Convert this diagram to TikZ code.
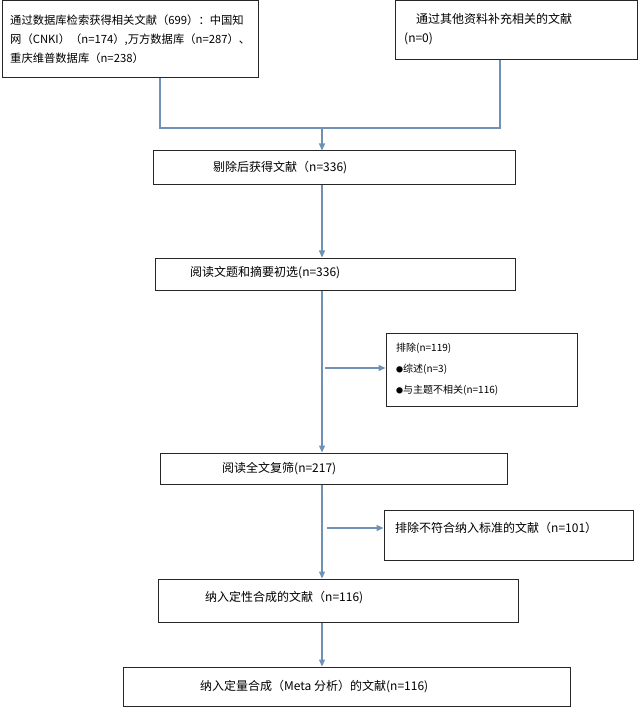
\documentclass[tikz,border=0pt]{standalone}
\usepackage{fontspec}
\setmainfont{Noto Sans CJK SC}
\usetikzlibrary{arrows.meta}
\definecolor{arr}{RGB}{110,145,180}
\begin{document}
\begin{tikzpicture}[x=1pt,y=-1pt,
  box/.style={draw=black!85,line width=1pt},
  txt/.style={anchor=west,inner sep=0pt,font=\fontsize{12}{19}\selectfont,align=left},
  con/.style={draw=arr,line width=1.3pt},
  arw/.style={con,-{Triangle[length=7pt,width=6pt]}}]
\useasboundingbox (0,0) rectangle (640,708);
\fill[white] (0,0) rectangle (640,708);
\newcommand\bx[5]{\node[box,minimum width={#4-#2},minimum height={#5-#3},inner sep=0pt] (#1) at ({(#2+#4)/2},{(#3+#5)/2}) {};}
\newcommand\bul{{\fontsize{7}{7}\selectfont●}}
\bx{b1}{2}{1}{258}{78}
\bx{b2}{395}{1}{637}{60}
\bx{b3}{153}{151}{515}{185}
\bx{b4}{155}{258}{515}{290}
\bx{b5}{386}{333}{577}{406}
\bx{b6}{160}{453}{507}{484}
\bx{b7}{384}{510}{633}{560}
\bx{b8}{158}{579}{518}{622}
\bx{b9}{123}{667}{570}{706}
\node[txt,font=\fontsize{11.3}{19}\selectfont] (t1) at (10,39) {通过数据库检索获得相关文献（699）：中国知\\网（CNKI）（n=174）,万方数据库（n=287）、\\重庆维普数据库（n=238）};
\node[txt] (t2) at (404,29) {\hspace{12pt}通过其他资料补充相关的文献\\(n=0)};
\node[txt] (t3) at (213,168) {剔除后获得文献（n=336)};
\node[txt] (t4) at (190,273) {阅读文题和摘要初选(n=336)};
\node[txt,font=\fontsize{10}{21}\selectfont] (t5) at (396,369) {排除(n=119)\\\bul{}综述(n=3)\\\bul{}与主题不相关(n=116)};
\node[txt] (t6) at (222,469) {阅读全文复筛(n=217)};
\node[txt] (t7) at (395,528) {排除不符合纳入标准的文献（n=101）};
\node[txt] (t8) at (205,598) {纳入定性合成的文献（n=116)};
\node[txt] (t9) at (200,687) {纳入定量合成（Meta 分析）的文献(n=116)};
\coordinate (m) at (322,128);
\draw[con] (b1.south -| 160,0) |- (m) -| (b2.south -| 500,0);
\draw[arw] (m) -- (b3.north -| m);
\draw[arw] (b3.south -| m) -- (b4.north -| m);
\draw[arw] (b4.south -| m) -- (b6.north -| m);
\draw[arw] (b6.south -| m) -- (b8.north -| m);
\draw[arw] (b8.south -| m) -- (b9.north -| m);
\coordinate (e1) at (325,368);
\coordinate (e2) at (327,528);
\draw[arw] (e1) -- (b5.west |- e1);
\draw[arw] (e2) -- (b7.west |- e2);
\end{tikzpicture}
\end{document}
